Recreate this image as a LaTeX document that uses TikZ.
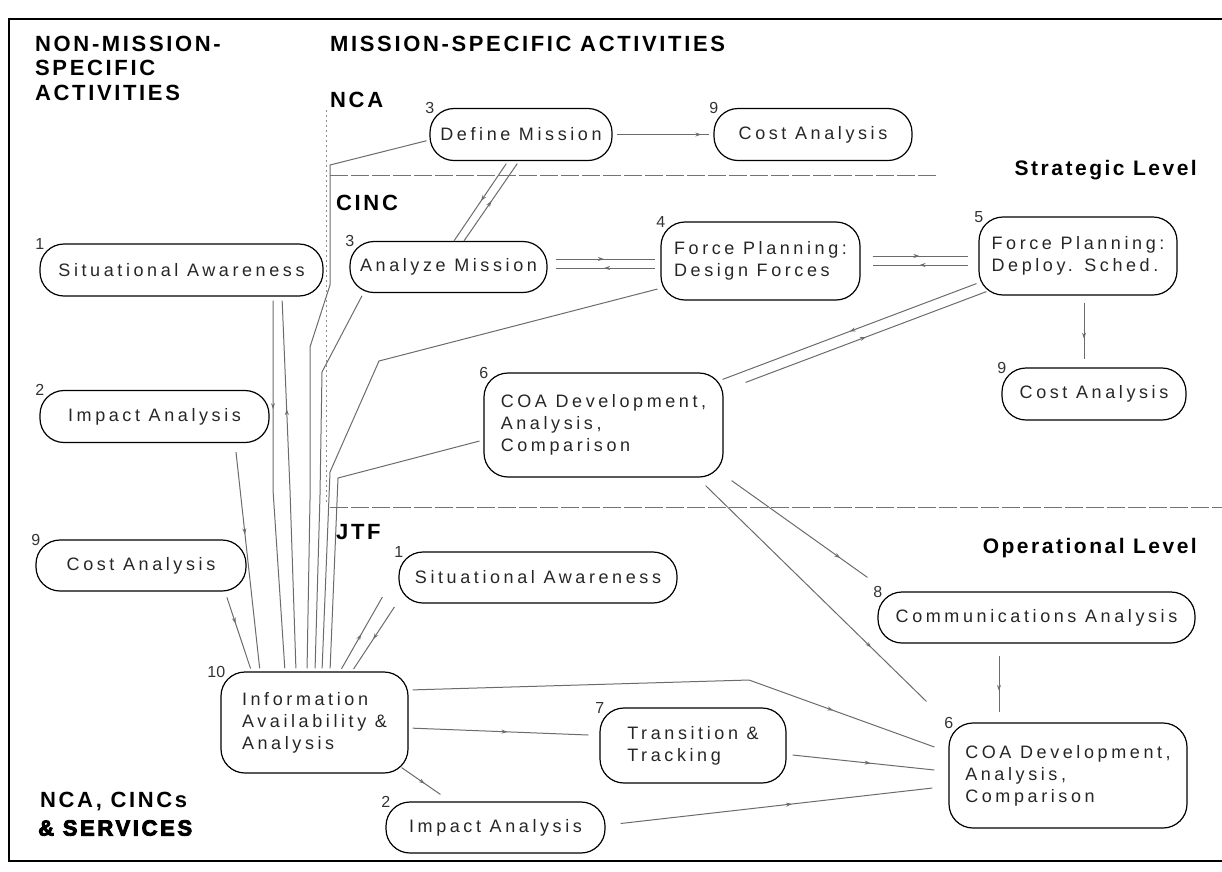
\documentclass[tikz,border=0pt]{standalone}
\usepackage{fontspec}
\setmainfont{Liberation Sans}
\newfontfamily\boxfont[LetterSpace=20]{Liberation Sans}
\newfontfamily\headfont[LetterSpace=12]{Liberation Sans}
\usetikzlibrary{decorations.markings,arrows.meta}

\tikzset{
  act/.style={draw, line width=1.2pt, rounded corners=24pt, align=left, inner sep=0pt,
    text=black!85, font=\boxfont\fontsize{18}{22}\selectfont},
  num/.style={inner sep=0pt, text=black!80, font=\fontsize{16}{16}\selectfont},
  head/.style={inner sep=0pt, anchor=west, align=left,
    font=\headfont\bfseries\fontsize{22}{24.5}\selectfont},
  level/.style={inner sep=0pt, anchor=east, font=\headfont\bfseries\fontsize{21}{21}\selectfont},
  link/.style={draw=black!58, line width=1pt},
  sep/.style={draw=black!55, line width=0.9pt, dash pattern=on 18pt off 3pt},
  midarrow/.style={postaction={decorate, decoration={markings,
    mark=at position #1 with {\arrow{Stealth[length=6pt,width=4pt]}}}}},
  midarrow/.default=0.5,
}

\begin{document}
\begin{tikzpicture}[x=1pt, y=-1pt]
\useasboundingbox (0,0) rectangle (1222,871);

% frame
\draw[line width=2pt] (1222,19) -- (9,19) -- (9,861) -- (1222,861);

% headings
\node[head] (hnm) at (35,68) {NON-MISSION-\\SPECIFIC\\ACTIVITIES};
\node[head] (hms) at (330,44) {MISSION-SPECIFIC ACTIVITIES};
\node[head] (lnca) at (330,100) {NCA};
\node[head] (lcinc) at (336,203) {CINC};
\node[head] (ljtf) at (336,532) {JTF};
\node[level] (lstr) at (1197,170) {Strategic Level};
\node[level] (lop) at (1197,548) {Operational Level};
\node[head] (lncs) at (40,802) {NCA, CINCs};
\node[head, font=\headfont\bfseries\fontsize{22}{22}\selectfont\addfontfeature{FakeBold=4}] (lsrv) at (38,828) {\& SERVICES};

% level separators and the column edge
\coordinate (sepA) at (330,175);
\coordinate (sepB) at (937,175);
\coordinate (sepC) at (330,507);
\coordinate (sepD) at (1222,507);
\coordinate (colT) at (326,110);
\coordinate (colB) at (326,505);
\draw[sep] (sepA) -- (sepB);
\draw[sep] (sepC) -- (sepD);
\draw[draw=black!45, line width=0.8pt, dash pattern=on 2pt off 3pt] (colT) -- (colB);

% non-mission-specific activities
\node[act, minimum width=283pt, minimum height=52pt] (sa1) at (181.5,270) {Situational Awareness};
\node[act, minimum width=229pt, minimum height=52pt] (ia2) at (154.5,416.5) {Impact Analysis};
\node[act, minimum width=210pt, minimum height=51pt] (ca9) at (141,565.5) {Cost Analysis};

% strategic level
\node[act, minimum width=182pt, minimum height=52pt] (dm3) at (521,134.5) {Define Mission};
\node[act, minimum width=198pt, minimum height=52pt] (cb9) at (813,134.5) {Cost Analysis};
\node[act, minimum width=197pt, minimum height=51pt] (am3) at (448.5,267) {Analyze Mission};
\node[act, minimum width=199pt, minimum height=78pt] (fd4) at (760.5,261) {Force Planning:\\Design Forces};
\node[act, minimum width=198pt, minimum height=78pt] (fs5) at (1078,256) {Force Planning:\\Deploy. Sched.};
\node[act, minimum width=184pt, minimum height=52pt] (cr9) at (1094,394) {Cost Analysis};
\node[act, minimum width=239pt, minimum height=104pt] (cs6) at (603.5,425) {COA Development,\\Analysis,\\Comparison};

% operational level
\node[act, minimum width=278pt, minimum height=51pt] (sj1) at (538,577.5) {Situational Awareness};
\node[act, minimum width=317pt, minimum height=51pt] (cm8) at (1036.5,617.5) {Communications Analysis};
\node[act, minimum width=187pt, minimum height=101pt] (ia10) at (314.5,722.5) {Information\\Availability \&\\Analysis};
\node[act, minimum width=186pt, minimum height=75pt] (tt7) at (693,745.5) {Transition \&\\Tracking};
\node[act, minimum width=219pt, minimum height=51pt] (ij2) at (495.5,827.5) {Impact Analysis};
\node[act, minimum width=238pt, minimum height=105pt] (co6) at (1068,775.5) {COA Development,\\Analysis,\\Comparison};

% activity numbers
\foreach \b/\n in {sa1/1, ia2/2, ca9/9, dm3/3, cb9/9, am3/3, fd4/4, fs5/5, cr9/9, cs6/6,
                   sj1/1, cm8/8, ia10/10, tt7/7, ij2/2, co6/6}
  \node[num, anchor=south east] (n-\b) at ([xshift=5pt,yshift=-6pt]\b.north west) {\n};

% strategic-level flows
\draw[link, midarrow=0.88, shorten <=4pt, shorten >=4pt] (dm3.east) -- (cb9.west);
\draw[link, midarrow=0.5, shorten <=3pt] ([xshift=-13pt]dm3.south) -- ([xshift=5.5pt]am3.north);
\draw[link, midarrow=0.5, shorten >=3pt] ([xshift=15.5pt]am3.north) -- ([xshift=-2pt]dm3.south);
\draw[link, midarrow=0.5, shorten <=8pt, shorten >=5pt] ([yshift=8pt]am3.east) -- ([yshift=2pt]fd4.west);
\draw[link, midarrow=0.5, shorten <=5pt, shorten >=8pt] ([yshift=-7pt]fd4.west) -- ([yshift=-1pt]am3.east);
\draw[link, midarrow=0.5, shorten <=12pt, shorten >=10pt] ([yshift=5pt]fd4.east) -- (fs5.west);
\draw[link, midarrow=0.5, shorten <=10pt, shorten >=12pt] ([yshift=-9pt]fs5.west) -- ([yshift=-4pt]fd4.east);
\draw[link, midarrow=0.6, shorten <=7pt, shorten >=8pt] ([xshift=6pt]fs5.south) -- ([xshift=-10pt]cr9.north);
\draw[link, midarrow=0.5] ([xshift=-2pt,yshift=12pt]fs5.south west) -- ([xshift=-1pt,yshift=-7pt]cs6.north east);
\draw[link, midarrow=0.5] ([xshift=22pt,yshift=-10pt]cs6.north east) -- ([xshift=8pt,yshift=4pt]fs5.south west);

% strategic to operational level
\draw[link, midarrow=0.75] ([xshift=-18pt,yshift=-8pt]cs6.south east) -- ([xshift=-22pt,yshift=21pt]co6.north west);
\draw[link, midarrow=0.8] ([xshift=8pt,yshift=-3pt]cs6.south east) -- ([xshift=-10pt,yshift=14pt]cm8.north west);
\draw[link, midarrow=0.6, shorten <=12pt, shorten >=10pt] ([xshift=-37.5pt]cm8.south) -- ([xshift=-69pt]co6.north);

% information availability and analysis: operational level
\coordinate (bendO) at (749,680);
\draw[link, midarrow=0.8, shorten <=4pt] ([yshift=32.5pt]ia10.east) -- (bendO) -- ([xshift=-14pt,yshift=28.5pt]co6.west);
\draw[link, midarrow=0.55, shorten <=4pt] ([yshift=-5.5pt]ia10.east) -- ([xshift=-11pt,yshift=10.5pt]tt7.west);
\draw[link, midarrow=0.55] ([xshift=6pt,yshift=-9.5pt]tt7.east) -- ([xshift=-14pt,yshift=5.5pt]co6.west);
\draw[link, midarrow=0.6] ([xshift=-7pt,yshift=6pt]ia10.south east) -- ([xshift=55pt,yshift=7pt]ij2.north west);
\draw[link, midarrow=0.55] ([xshift=15pt,yshift=4pt]ij2.east) -- ([xshift=-16pt,yshift=-12.5pt]co6.west);
\draw[link, midarrow=0.5, shorten <=3pt] ([xshift=25.5pt]ia10.north) -- ([xshift=-16pt,yshift=-19.5pt]sj1.west);
\draw[link, midarrow=0.5, shorten >=3pt] ([xshift=-4pt,yshift=-29.5pt]sj1.west) -- ([xshift=37.5pt]ia10.north);

% information availability and analysis: non-mission-specific activities
\coordinate (saA) at (273,490);
\coordinate (saB) at (290,490);
\draw[link, midarrow=0.3, shorten <=4pt, shorten >=3pt] ([xshift=91.5pt]sa1.south) -- (saA) -- ([xshift=-29.5pt]ia10.north);
\draw[link, midarrow=0.7, shorten <=3pt, shorten >=4pt] ([xshift=-18.5pt]ia10.north) -- (saB) -- ([xshift=100.5pt]sa1.south);
\draw[link, midarrow=0.4, shorten <=9pt, shorten >=3pt] ([xshift=80.5pt]ia2.south) -- ([xshift=-54.5pt]ia10.north);
\draw[link, midarrow=0.4, shorten <=6pt, shorten >=3pt] ([xshift=84pt]ca9.south) -- ([xshift=-63pt]ia10.north);

% information availability and analysis: strategic level
\coordinate (dmA) at (310,500);
\coordinate (dmB) at (310,347);
\coordinate (dmC) at (330,285);
\coordinate (dmD) at (330,165);
\draw[link, shorten <=3pt, shorten >=3pt] ([xshift=-7.5pt]ia10.north) -- (dmA) -- (dmB) -- (dmC) -- (dmD) -- ([yshift=-5.5pt]dm3.west);
\coordinate (amA) at (320,495);
\coordinate (amB) at (322,372);
\draw[link, shorten <=3pt, shorten >=3pt] ([xshift=0.5pt]ia10.north) -- (amA) -- (amB) -- ([xshift=14pt]am3.south west);
\coordinate (fdA) at (330,472);
\coordinate (fdC) at (379,361);
\draw[link, shorten <=3pt, shorten >=4pt] ([xshift=7.5pt]ia10.north) -- (fdA) -- (fdC) -- ([xshift=1pt,yshift=-27pt]fd4.west);
\coordinate (csA) at (338,478);
\draw[link, shorten <=3pt, shorten >=4pt] ([xshift=15.5pt]ia10.north) -- (csA) -- ([yshift=-15pt]cs6.west);
\end{tikzpicture}
\end{document}
